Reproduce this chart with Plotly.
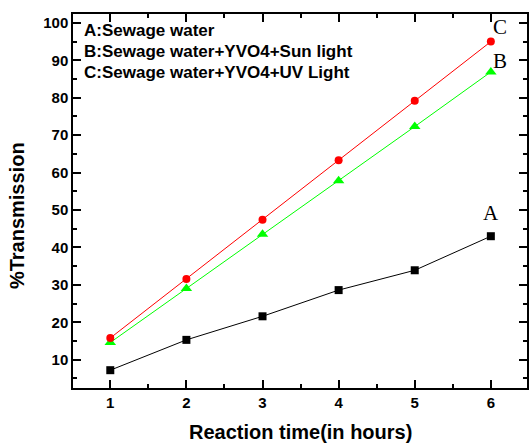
import plotly.graph_objects as go

hours = [1, 2, 3, 4, 5, 6]
series_a = [7.2, 15.3, 21.6, 28.6, 33.9, 43.0]
series_b = [14.6, 29.0, 43.5, 57.8, 72.3, 86.9]
series_c = [15.8, 31.6, 47.4, 63.3, 79.2, 95.0]
names = ["A", "B", "C"]
legend_lines = ["A:Sewage water", "B:Sewage water+YVO4+Sun light", "C:Sewage water+YVO4+UV Light"]
x_title = "Reaction time(in hours)"
y_title = "%Transmission"

fig = go.Figure()
fig.add_trace(go.Scatter(x=hours, y=series_a, mode="lines+markers", name=names[0],
                         line=dict(color="black", width=1),
                         marker=dict(symbol="square", size=8, color="black")))
fig.add_trace(go.Scatter(x=hours, y=series_b, mode="lines+markers", name=names[1],
                         line=dict(color="#00FF00", width=1),
                         marker=dict(symbol="triangle-up", size=10, color="#00FF00")))
fig.add_trace(go.Scatter(x=hours, y=series_c, mode="lines+markers", name=names[2],
                         line=dict(color="#FF0000", width=1),
                         marker=dict(symbol="circle", size=8, color="#FF0000")))

tickfont = dict(family="Liberation Sans", size=15, color="black")
axis_common = dict(showline=True, linecolor="black", linewidth=1.5, mirror="allticks",
                   ticks="inside", ticklen=8, tickwidth=1.5, tickcolor="black",
                   showgrid=False, zeroline=False, tickfont=tickfont)

fig.update_xaxes(range=[0.51, 6.475], tickmode="array", tickvals=hours,
                 ticktext=["<b>%d</b>" % h for h in hours],
                 minor=dict(dtick=0.5, tick0=0.5, ticks="inside", ticklen=4, tickwidth=1.5, tickcolor="black"),
                 **axis_common)
yticks = [10, 20, 30, 40, 50, 60, 70, 80, 90, 100]
fig.update_yaxes(range=[2.44, 102.38], tickmode="array", tickvals=yticks,
                 ticktext=["<b>%d</b>" % v for v in yticks],
                 minor=dict(dtick=5, tick0=0, ticks="inside", ticklen=4, tickwidth=1.5, tickcolor="black"),
                 **axis_common)

annotations = []
# legend-like text block
for i, line in enumerate(legend_lines):
    annotations.append(dict(xref="paper", yref="paper", x=0.02, y=0.955 - i * 0.0562,
                            xanchor="left", yanchor="middle", showarrow=False,
                            text="<b>%s</b>" % line,
                            font=dict(family="Liberation Sans", size=17, color="black")))
# series labels near last points
last = [(series_a[-1], 0, 23), (series_b[-1], 9, 11), (series_c[-1], 9, 15)]
for name, (yv, dx, dy) in zip(names, last):
    annotations.append(dict(xref="x", yref="y", x=hours[-1], y=yv, xshift=dx, yshift=dy,
                            showarrow=False, text=name,
                            font=dict(family="Liberation Serif", size=21, color="black")))
# axis titles
annotations.append(dict(xref="paper", yref="paper", x=0.5, y=-0.117, xanchor="center", yanchor="middle",
                        showarrow=False, text="<b>%s</b>" % x_title,
                        font=dict(family="Liberation Sans", size=20, color="black")))
annotations.append(dict(xref="paper", yref="paper", x=-0.123, y=0.46, xanchor="center", yanchor="middle",
                        showarrow=False, textangle=-90, text="<b>%s</b>" % y_title,
                        font=dict(family="Liberation Sans", size=20, color="black")))

fig.update_layout(width=529, height=443, margin=dict(l=73, r=0, t=14, b=55),
                  paper_bgcolor="white", plot_bgcolor="white", showlegend=False,
                  annotations=annotations)

fig.write_html("out.html", config={"displayModeBar": False},
               post_script="document.body.style.margin='0';document.body.style.overflow='hidden';")
